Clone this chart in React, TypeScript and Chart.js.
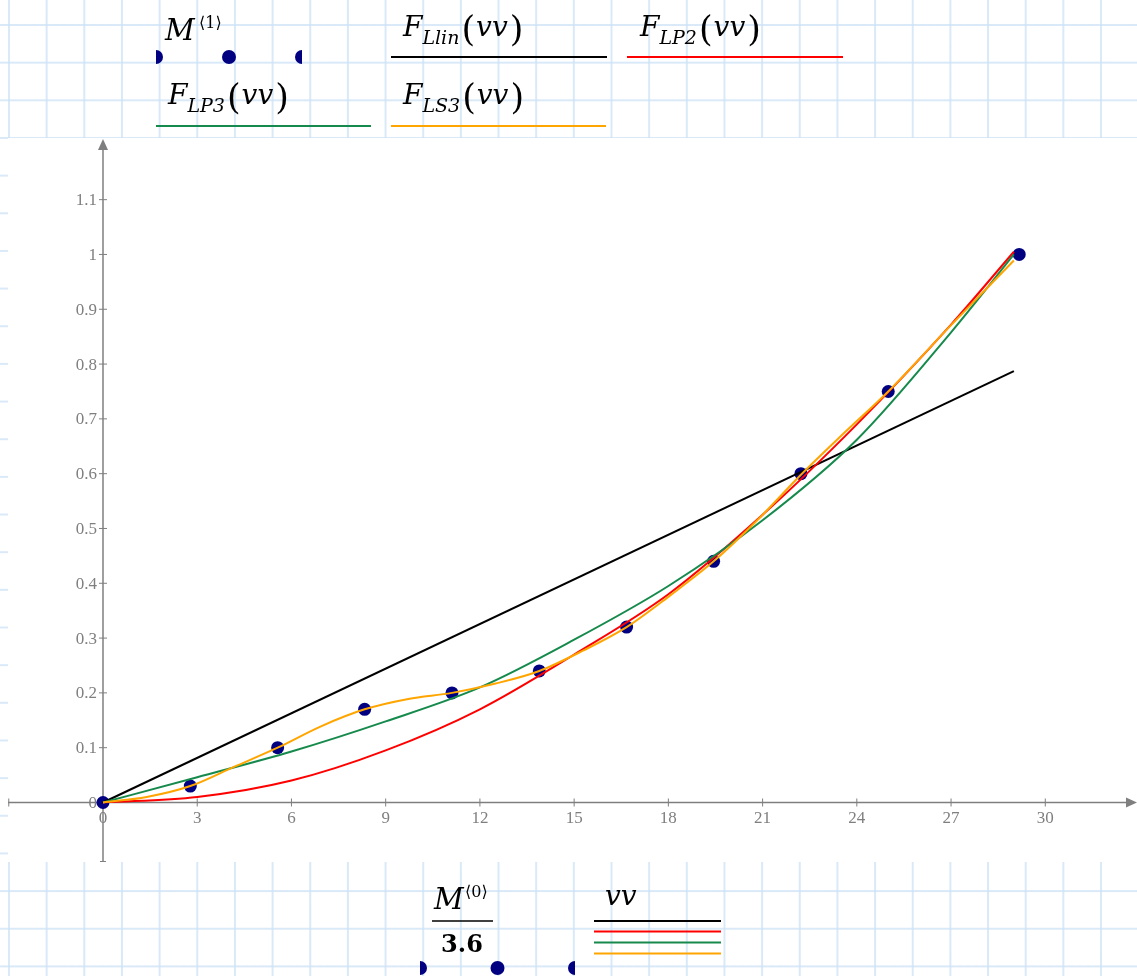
import React, { useEffect, useRef } from 'react';
import { Chart, registerables } from 'chart.js';

Chart.register(...registerables);

const W = 1137;
const H = 976;

// Measured points: M<0>/3.6 (x) and M<1> (y)
const mSpeed = [0, 2.78, 5.56, 8.33, 11.11, 13.89, 16.67, 19.44, 22.22, 25.0, 29.17];
const mValue = [0, 0.03, 0.1, 0.17, 0.2, 0.24, 0.32, 0.44, 0.6, 0.75, 1.0];

// F_Llin(vv): linear fit
const vvLin = [0, 29];
const fLlin = [0, 0.787];

// F_LP2(vv) and F_LP3(vv): polynomial fits, read at these vv
const vvFit = [0, 3, 6, 9, 12, 15, 18, 21, 24, 27, 29];
const fLP2 = [0, 0.01, 0.04, 0.095, 0.17, 0.27, 0.38, 0.525, 0.69, 0.872, 1.005];
const fLP3 = [0, 0.046, 0.093, 0.148, 0.21, 0.297, 0.395, 0.515, 0.662, 0.858, 1.0];

// F_LS3(vv): spline, read at these vv
const vvSpline = [0, 1.39, 2.78, 4.17, 5.56, 6.94, 8.33, 9.72, 11.11, 12.5, 13.89, 15.28, 16.67, 18.06, 19.44, 20.83, 22.22, 23.61, 25, 27, 29];
const fLS3 = [0, 0.01, 0.03, 0.065, 0.1, 0.139, 0.17, 0.189, 0.2, 0.217, 0.24, 0.277, 0.32, 0.378, 0.44, 0.515, 0.598, 0.675, 0.75, 0.871, 0.989];

// Axis ticks
const xTickValues = [-3, 0, 3, 6, 9, 12, 15, 18, 21, 24, 27, 30];
const xTickLabels = ['', '0', '3', '6', '9', '12', '15', '18', '21', '24', '27', '30'];
const yTickValues = [0, 0.1, 0.2, 0.3, 0.4, 0.5, 0.6, 0.7, 0.8, 0.9, 1, 1.1];
const yTickLabels = ['0', '0.1', '0.2', '0.3', '0.4', '0.5', '0.6', '0.7', '0.8', '0.9', '1', '1.1'];

// Axis ranges
const X_MIN = -3.0245;
const X_MAX = 32.92;
const Y_MIN = -0.1086;
const Y_MAX = 1.2107;

const SERIF = '"DejaVu Serif", serif';
const TICK_FONT = '17px "Liberation Serif", serif';
const AXIS_GREY = '#7f7f7f';
const NAVY = '#000080';
const C_BLACK = '#000000';
const C_RED = '#ff0000';
const C_GREEN = '#168a4c';
const C_ORANGE = '#ffa500';

const toXY = (xs: number[], ys: number[]) => xs.map((x, i) => ({ x, y: ys[i] }));

function drawFn(ctx: CanvasRenderingContext2D, x: number, base: number, sub: string) {
  ctx.fillStyle = '#000';
  ctx.textAlign = 'left';
  ctx.textBaseline = 'alphabetic';
  ctx.font = `italic 28px ${SERIF}`;
  ctx.fillText('F', x, base);
  let cx = x + ctx.measureText('F').width;
  ctx.font = `italic 19px ${SERIF}`;
  ctx.fillText(sub, cx, base + 8);
  cx += ctx.measureText(sub).width + 2;
  ctx.font = `35px ${SERIF}`;
  ctx.fillText('(', cx, base + 5);
  cx += ctx.measureText('(').width + 1;
  ctx.font = `italic 28px ${SERIF}`;
  ctx.fillText('vv', cx, base);
  cx += ctx.measureText('vv').width + 2;
  ctx.font = `35px ${SERIF}`;
  ctx.fillText(')', cx, base + 5);
}

function hLine(ctx: CanvasRenderingContext2D, x1: number, x2: number, y: number, color: string) {
  ctx.strokeStyle = color;
  ctx.lineWidth = 2;
  ctx.beginPath();
  ctx.moveTo(x1, y);
  ctx.lineTo(x2, y);
  ctx.stroke();
}

function markerRow(ctx: CanvasRenderingContext2D, x1: number, x2: number, y: number) {
  ctx.save();
  ctx.beginPath();
  ctx.rect(x1, y - 10, x2 - x1, 20);
  ctx.clip();
  ctx.fillStyle = NAVY;
  [x1, (x1 + x2) / 2, x2].forEach((cx) => {
    ctx.beginPath();
    ctx.arc(cx, y, 7, 0, Math.PI * 2);
    ctx.fill();
  });
  ctx.restore();
}

const mathcadPlugin = {
  id: 'mathcadLook',
  beforeDraw(chart: any) {
    const { ctx, chartArea } = chart;
    ctx.save();
    ctx.fillStyle = '#ffffff';
    ctx.fillRect(chartArea.left, chartArea.top - 1, chartArea.right - chartArea.left, chartArea.bottom - chartArea.top + 1);
    ctx.restore();
  },
  beforeDatasetsDraw(chart: any) {
    const { ctx, chartArea, scales } = chart;
    const xs = scales.x;
    const ys = scales.y;
    const x0 = xs.getPixelForValue(0);
    const y0 = ys.getPixelForValue(0);
    ctx.save();
    ctx.strokeStyle = AXIS_GREY;
    ctx.fillStyle = AXIS_GREY;
    ctx.lineWidth = 1.5;
    // x axis
    ctx.beginPath();
    ctx.moveTo(chartArea.left, y0);
    ctx.lineTo(chartArea.right - 9, y0);
    ctx.stroke();
    ctx.beginPath();
    ctx.moveTo(chartArea.right, y0);
    ctx.lineTo(chartArea.right - 11, y0 - 5);
    ctx.lineTo(chartArea.right - 11, y0 + 5);
    ctx.closePath();
    ctx.fill();
    // y axis
    ctx.beginPath();
    ctx.moveTo(x0, chartArea.bottom);
    ctx.lineTo(x0, chartArea.top + 9);
    ctx.stroke();
    ctx.beginPath();
    ctx.moveTo(x0, chartArea.top);
    ctx.lineTo(x0 - 5, chartArea.top + 11);
    ctx.lineTo(x0 + 5, chartArea.top + 11);
    ctx.closePath();
    ctx.fill();
    // bottom cap on y axis
    ctx.lineWidth = 1;
    ctx.beginPath();
    ctx.moveTo(x0 - 3, chartArea.bottom - 0.5);
    ctx.lineTo(x0 + 3, chartArea.bottom - 0.5);
    ctx.stroke();
    // ticks and labels
    ctx.font = TICK_FONT;
    ctx.textBaseline = 'alphabetic';
    xTickValues.forEach((v, i) => {
      const px = xs.getPixelForValue(v);
      ctx.beginPath();
      ctx.moveTo(px, y0 - 4);
      ctx.lineTo(px, y0 + 4);
      ctx.stroke();
      if (xTickLabels[i]) {
        ctx.textAlign = 'center';
        ctx.fillText(xTickLabels[i], px, y0 + 21);
      }
    });
    yTickValues.forEach((v, i) => {
      const py = ys.getPixelForValue(v);
      if (v !== 0) {
        ctx.beginPath();
        ctx.moveTo(x0 - 4, py);
        ctx.lineTo(x0 + 4, py);
        ctx.stroke();
      }
      ctx.textAlign = 'right';
      ctx.fillText(yTickLabels[i], x0 - 6, py + 5.5);
    });
    ctx.restore();
  },
  afterDraw(chart: any) {
    const ctx: CanvasRenderingContext2D = chart.ctx;
    ctx.save();
    // top legend row 1
    ctx.fillStyle = '#000';
    ctx.textAlign = 'left';
    ctx.textBaseline = 'alphabetic';
    ctx.font = `italic 29px ${SERIF}`;
    ctx.fillText('M', 165, 40);
    ctx.font = `16px ${SERIF}`;
    ctx.fillText('\u27E81\u27E9', 199, 28);
    markerRow(ctx, 156, 302, 57);

    drawFn(ctx, 403, 36, 'Llin');
    hLine(ctx, 391, 607, 57, C_BLACK);
    drawFn(ctx, 640, 36, 'LP2');
    hLine(ctx, 627, 843, 57, C_RED);

    // top legend row 2
    drawFn(ctx, 168, 104, 'LP3');
    hLine(ctx, 156, 371, 126, C_GREEN);
    drawFn(ctx, 403, 104, 'LS3');
    hLine(ctx, 391, 606, 126, C_ORANGE);

    // bottom: x-axis expression
    ctx.fillStyle = '#000';
    ctx.font = `italic 29px ${SERIF}`;
    ctx.fillText('M', 434, 909);
    ctx.font = `16px ${SERIF}`;
    ctx.fillText('\u27E80\u27E9', 465, 897);
    ctx.strokeStyle = '#000';
    ctx.lineWidth = 1.5;
    ctx.beginPath();
    ctx.moveTo(432, 921);
    ctx.lineTo(493, 921);
    ctx.stroke();
    ctx.font = `bold 24px ${SERIF}`;
    ctx.textAlign = 'center';
    ctx.fillText('3.6', 462, 952);
    ctx.textAlign = 'left';
    markerRow(ctx, 420, 575, 968);

    ctx.font = `italic 28px ${SERIF}`;
    ctx.fillText('vv', 605, 905);
    hLine(ctx, 594, 721, 921, C_BLACK);
    hLine(ctx, 594, 721, 931.5, C_RED);
    hLine(ctx, 594, 721, 942.5, C_GREEN);
    hLine(ctx, 594, 721, 953.5, C_ORANGE);
    ctx.restore();
  },
};

export default function App() {
  const canvasRef = useRef<HTMLCanvasElement | null>(null);

  useEffect(() => {
    document.body.style.margin = '0';
    const canvas = canvasRef.current;
    if (!canvas) return;
    const lineDs = (label: string, xs: number[], ys: number[], color: string, order: number, smooth: boolean) => ({
      label,
      data: toXY(xs, ys),
      showLine: true,
      borderColor: color,
      backgroundColor: color,
      borderWidth: 2,
      pointRadius: 0,
      fill: false,
      cubicInterpolationMode: smooth ? 'monotone' : 'default',
      tension: 0,
      order,
    });
    const chart = new Chart(canvas, {
      type: 'scatter',
      data: {
        datasets: [
          {
            label: 'M<1>',
            data: toXY(mSpeed, mValue),
            showLine: false,
            pointStyle: 'circle',
            pointRadius: 6.5,
            backgroundColor: NAVY,
            borderColor: NAVY,
            borderWidth: 0,
            order: 5,
          } as any,
          lineDs('F_Llin(vv)', vvLin, fLlin, C_BLACK, 4, false),
          lineDs('F_LP2(vv)', vvFit, fLP2, C_RED, 3, true),
          lineDs('F_LP3(vv)', vvFit, fLP3, C_GREEN, 2, true),
          lineDs('F_LS3(vv)', vvSpline, fLS3, C_ORANGE, 1, true),
        ],
      },
      options: {
        responsive: false,
        animation: false,
        devicePixelRatio: 1,
        events: [],
        layout: { autoPadding: false, padding: { left: 8, right: 0, top: 139, bottom: 114 } },
        plugins: { legend: { display: false }, tooltip: { enabled: false } },
        scales: {
          x: { type: 'linear', min: X_MIN, max: X_MAX, display: false },
          y: { type: 'linear', min: Y_MIN, max: Y_MAX, display: false },
        },
      },
      plugins: [mathcadPlugin],
    } as any);
    return () => chart.destroy();
  }, []);

  const gridColor = 'rgba(205, 226, 246, 0.75)';
  return (
    <div
      style={{
        position: 'absolute',
        left: 0,
        top: 0,
        width: W,
        height: H,
        overflow: 'hidden',
        backgroundColor: '#ffffff',
        backgroundImage: `linear-gradient(to right, ${gridColor} 1.5px, transparent 1.5px), linear-gradient(to bottom, ${gridColor} 1.5px, transparent 1.5px)`,
        backgroundSize: '37.67px 37.67px',
        backgroundPosition: '8px 24px',
      }}
    >
      <canvas ref={canvasRef} width={W} height={H} style={{ display: 'block', width: W, height: H }} />
    </div>
  );
}
